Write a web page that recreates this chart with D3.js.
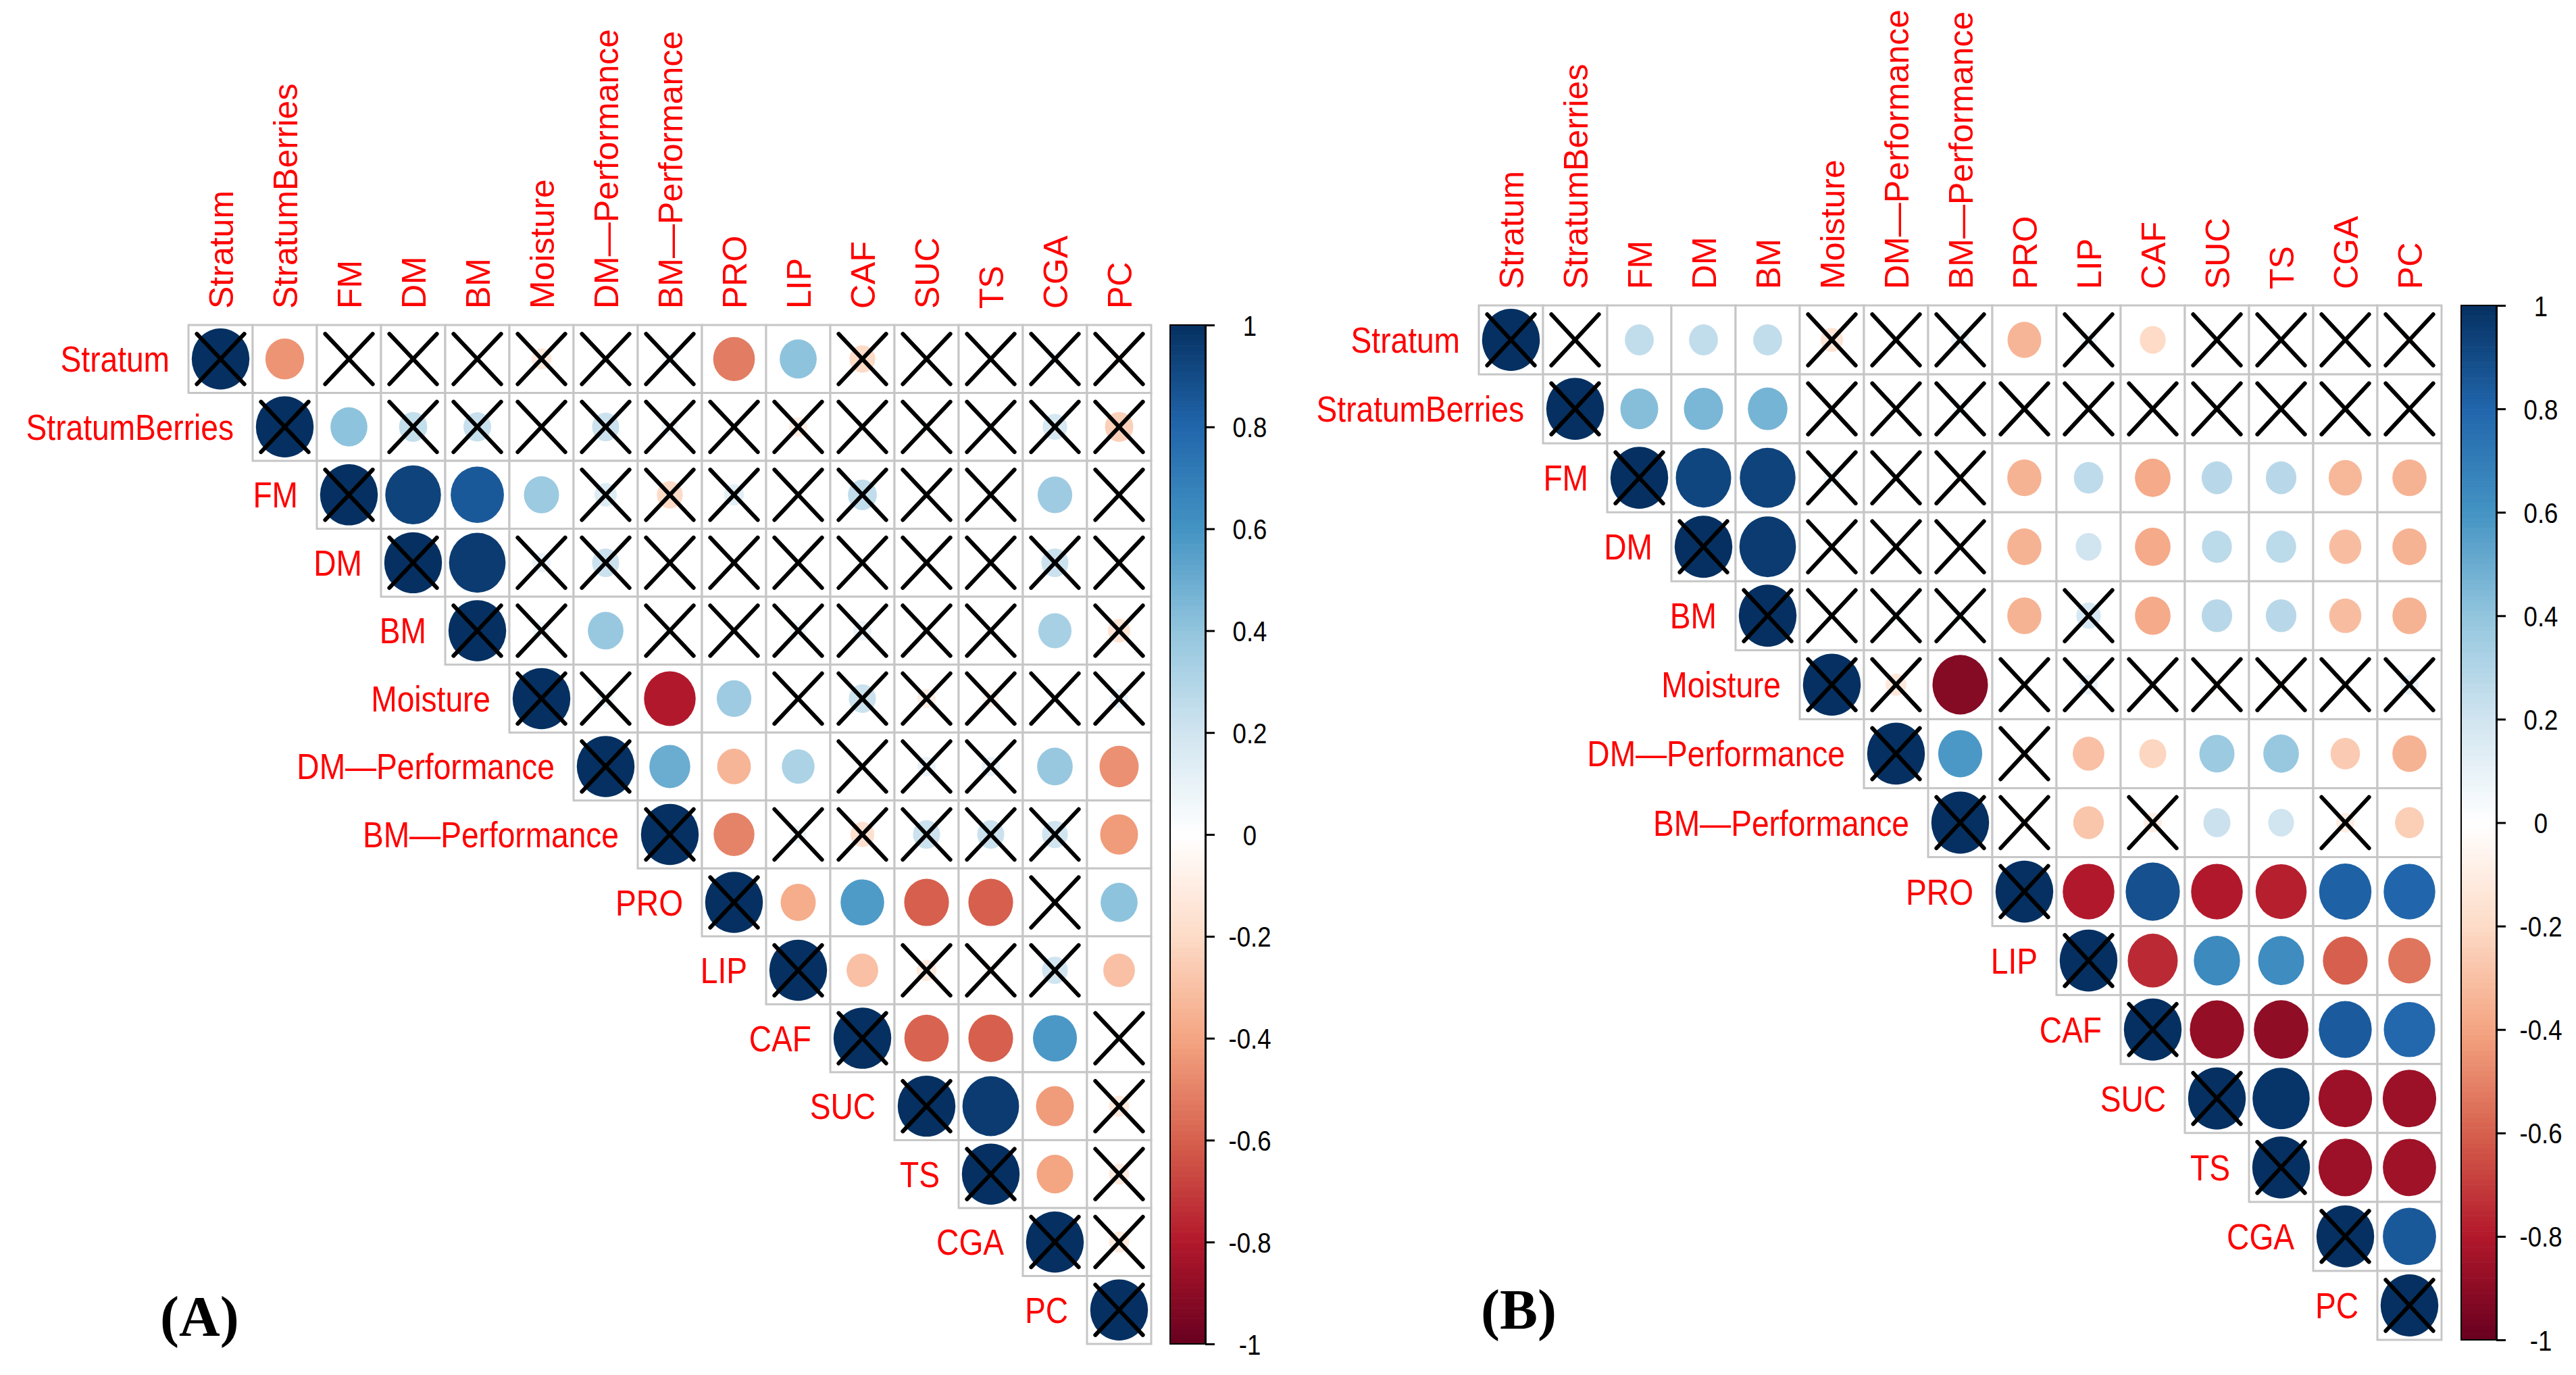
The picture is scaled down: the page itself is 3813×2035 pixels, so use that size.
<!DOCTYPE html>
<html>
<head>
<meta charset="utf-8">
<script src="https://cdn.jsdelivr.net/npm/d3@7"></script>
<style>
	body { margin: 0; background: #fff; }
	svg { display: block; }
	text { font-family: "Liberation Sans", Arial, sans-serif; }
	text.panel-name { font-family: "Liberation Serif", "Times New Roman", serif; font-weight: bold; }
</style>
</head>
<body>
<script>
// variables (same order for rows and columns)
const variables = [
	"Stratum", "StratumBerries", "FM", "DM", "BM", "Moisture",
	"DM—Performance", "BM—Performance", "PRO", "LIP", "CAF", "SUC", "TS", "CGA", "PC"
];

// upper triangle of each correlation matrix, every row starts at the diagonal
const corrA = [
	[1, -0.45, 0.02, 0.01, 0.02, -0.12, 0.02, 0.07, -0.52, 0.41, -0.2, 0.01, 0.02, 0.06, -0.05],
	[1, 0.41, 0.24, 0.23, 0.02, 0.22, 0.08, 0.02, -0.1, 0.02, 0.05, 0.05, 0.18, -0.24],
	[1, 0.93, 0.85, 0.37, 0.15, -0.2, 0.12, 0.03, 0.25, 0.03, 0.04, 0.36, 0.03],
	[1, 0.96, 0.1, 0.22, 0.03, 0.03, 0.03, 0.05, 0.02, 0.02, 0.22, -0.05],
	[1, 0.08, 0.38, 0.05, 0.03, 0.08, 0.1, 0.03, 0.03, 0.33, -0.15],
	[1, 0.08, -0.8, 0.36, 0.02, 0.22, -0.1, -0.08, 0.02, 0.1],
	[1, 0.5, -0.34, 0.32, 0.02, 0.1, 0.1, 0.38, -0.46],
	[1, -0.5, 0.08, -0.17, 0.22, 0.22, 0.2, -0.43],
	[1, -0.37, 0.57, -0.6, -0.6, 0.03, 0.41],
	[1, -0.3, -0.12, -0.05, 0.2, -0.3],
	[1, -0.59, -0.6, 0.58, 0.05],
	[1, 0.96, -0.43, -0.12],
	[1, -0.4, -0.12],
	[1, -0.12],
	[1]
];
// 1 = not significant (drawn with a cross)
const crossA = [
	[1, 0, 1, 1, 1, 1, 1, 1, 0, 0, 1, 1, 1, 1, 1],
	[1, 0, 1, 1, 1, 1, 1, 1, 1, 1, 1, 1, 1, 1],
	[1, 0, 0, 0, 1, 1, 1, 1, 1, 1, 1, 0, 1],
	[1, 0, 1, 1, 1, 1, 1, 1, 1, 1, 1, 1],
	[1, 1, 0, 1, 1, 1, 1, 1, 1, 0, 1],
	[1, 1, 0, 0, 1, 1, 1, 1, 1, 1],
	[1, 0, 0, 0, 1, 1, 1, 0, 0],
	[1, 0, 1, 1, 1, 1, 1, 0],
	[1, 0, 0, 0, 0, 1, 0],
	[1, 0, 1, 1, 1, 0],
	[1, 0, 0, 0, 1],
	[1, 0, 0, 1],
	[1, 0, 1],
	[1, 1],
	[1]
];

const corrB = [
	[1, 0.02, 0.25, 0.25, 0.25, -0.15, 0.02, 0.1, -0.34, 0.08, -0.2, 0.02, 0.02, -0.03, -0.05],
	[1, 0.43, 0.46, 0.47, -0.05, 0.02, 0.06, 0.02, 0.02, 0.02, 0.02, 0.02, 0.02, 0.02],
	[1, 0.92, 0.93, 0.08, 0.02, -0.05, -0.35, 0.26, -0.38, 0.28, 0.28, -0.33, -0.35],
	[1, 0.96, 0.03, 0.02, 0.02, -0.35, 0.2, -0.38, 0.27, 0.27, -0.31, -0.35],
	[1, 0.03, 0.05, 0.05, -0.35, 0.18, -0.38, 0.28, 0.28, -0.31, -0.35],
	[1, -0.13, -0.92, 0.02, 0.1, 0.02, -0.05, -0.05, 0.02, 0.1],
	[1, 0.58, -0.05, -0.3, -0.22, 0.37, 0.38, -0.26, -0.35],
	[1, -0.05, -0.28, -0.1, 0.22, 0.2, -0.1, -0.25],
	[1, -0.8, 0.88, -0.8, -0.78, 0.82, 0.8],
	[1, -0.75, 0.64, 0.63, -0.6, -0.54],
	[1, -0.88, -0.89, 0.84, 0.79],
	[1, 0.98, -0.86, -0.86],
	[1, -0.86, -0.85],
	[1, 0.85],
	[1]
];
const crossB = [
	[1, 1, 0, 0, 0, 1, 1, 1, 0, 1, 0, 1, 1, 1, 1],
	[1, 0, 0, 0, 1, 1, 1, 1, 1, 1, 1, 1, 1, 1],
	[1, 0, 0, 1, 1, 1, 0, 0, 0, 0, 0, 0, 0],
	[1, 0, 1, 1, 1, 0, 0, 0, 0, 0, 0, 0],
	[1, 1, 1, 1, 0, 1, 0, 0, 0, 0, 0],
	[1, 1, 0, 1, 1, 1, 1, 1, 1, 1],
	[1, 0, 1, 0, 0, 0, 0, 0, 0],
	[1, 1, 0, 1, 0, 0, 1, 0],
	[1, 0, 0, 0, 0, 0, 0],
	[1, 0, 0, 0, 0, 0],
	[1, 0, 0, 0, 0],
	[1, 0, 0, 0],
	[1, 0, 0],
	[1, 0],
	[1]
];

const legendTicks = [-1, -0.8, -0.6, -0.4, -0.2, 0, 0.2, 0.4, 0.6, 0.8, 1];
const paletteRdBu = [
	"#67001F", "#B2182B", "#D6604D", "#F4A582", "#FDDBC7", "#FFFFFF",
	"#D1E5F0", "#92C5DE", "#4393C3", "#2166AC", "#053061"
];
const panelNames = ["(A)", "(B)"];

const svgWidth = 3813;
const svgHeight = 2035;

const svg = d3
	.select("body")
	.append("svg")
	.attr("viewBox", `0 0 ${svgWidth} ${svgHeight}`)
	.attr("width", svgWidth)
	.attr("height", svgHeight);

svg.append("rect").attr("width", svgWidth).attr("height", svgHeight).attr("fill", "#fff");

// one colour stop for every legend tick
const colorScale = d3
	.scaleLinear()
	.domain(legendTicks)
	.range(paletteRdBu)
	.clamp(true);

const panels = [
	{ corr: corrA, cross: crossA, name: panelNames[0], left: 279, top: 481, bottom: 1989, cellW: 95, barX: 1732, nameX: 237, nameY: 1977 },
	{ corr: corrB, cross: crossB, name: panelNames[1], left: 2189, top: 452, bottom: 1983, cellW: 95, barX: 3643, nameX: 2192, nameY: 1967 }
];

const drawPanel = (p) => {
	const g = svg.append("g");

	const xScale = d3
		.scaleBand()
		.domain(variables)
		.range([p.left, p.left + p.cellW * variables.length]);

	const yScale = d3
		.scaleBand()
		.domain(variables)
		.range([p.top, p.bottom]);

	const bw = xScale.bandwidth();
	const bh = yScale.bandwidth();

	// flatten the upper triangle
	const cells = [];
	p.corr.forEach((row, i) => {
		row.forEach((r, k) => {
			cells.push({ i, j: i + k, r, ns: p.cross[i][k] === 1 });
		});
	});

	// grid
	g.append("g")
		.selectAll("rect")
		.data(cells)
		.join("rect")
		.attr("x", (d) => xScale(variables[d.j]))
		.attr("y", (d) => yScale(variables[d.i]))
		.attr("width", bw)
		.attr("height", bh)
		.attr("fill", "#fff")
		.attr("stroke", "#c6c6c6")
		.attr("stroke-width", 3);

	// circles, area proportional to |r|
	g.append("g")
		.selectAll("ellipse")
		.data(cells)
		.join("ellipse")
		.attr("cx", (d) => xScale(variables[d.j]) + bw / 2)
		.attr("cy", (d) => yScale(variables[d.i]) + bh / 2)
		.attr("rx", (d) => 0.45 * bw * Math.sqrt(Math.abs(d.r)))
		.attr("ry", (d) => 0.45 * bh * Math.sqrt(Math.abs(d.r)))
		.attr("fill", (d) => colorScale(d.r));

	// crosses for insignificant cells
	const crosses = g
		.append("g")
		.attr("stroke", "#000")
		.attr("stroke-width", 6)
		.attr("stroke-linecap", "round")
		.selectAll("g")
		.data(cells.filter((d) => d.ns))
		.join("g")
		.attr("transform", (d) => `translate(${xScale(variables[d.j]) + bw / 2} ${yScale(variables[d.i]) + bh / 2})`);

	crosses
		.append("line")
		.attr("x1", -0.37 * bw)
		.attr("y1", -0.37 * bh)
		.attr("x2", 0.37 * bw)
		.attr("y2", 0.37 * bh);
	crosses
		.append("line")
		.attr("x1", -0.37 * bw)
		.attr("y1", 0.37 * bh)
		.attr("x2", 0.37 * bw)
		.attr("y2", -0.37 * bh);

	// row labels, left of the diagonal cell
	g.append("g")
		.selectAll("text")
		.data(variables)
		.join("text")
		.attr("transform", (d) => `translate(${xScale(d) - 28} ${yScale(d) + bh / 2 + 19}) scale(0.87 1)`)
		.attr("text-anchor", "end")
		.attr("font-size", 53)
		.attr("fill", "#ff0000")
		.text((d) => d);

	// column labels, rotated
	g.append("g")
		.selectAll("text")
		.data(variables)
		.join("text")
		.attr("transform", (d) => `translate(${xScale(d) + bw / 2 + 18} ${p.top - 24}) rotate(-90)`)
		.attr("text-anchor", "start")
		.attr("font-size", 50)
		.attr("fill", "#ff0000")
		.text((d) => d);

	// colour legend
	const barWidth = 52;
	const barScale = d3.scaleLinear().domain([-1, 1]).range([p.bottom, p.top]);
	const steps = d3.range(200).map((k) => -1 + k * 0.01);

	g.append("g")
		.selectAll("rect")
		.data(steps)
		.join("rect")
		.attr("x", p.barX)
		.attr("y", (d) => barScale(d + 0.01))
		.attr("width", barWidth)
		.attr("height", (d) => barScale(d) - barScale(d + 0.01) + 0.6)
		.attr("fill", (d) => colorScale(d + 0.005));

	g.append("rect")
		.attr("x", p.barX)
		.attr("y", p.top)
		.attr("width", barWidth)
		.attr("height", p.bottom - p.top)
		.attr("fill", "none")
		.attr("stroke", "#000")
		.attr("stroke-width", 2);

	const axis = g
		.append("g")
		.attr("transform", `translate(${p.barX + barWidth} 0)`)
		.call(
			d3
				.axisRight(barScale)
				.tickValues(legendTicks)
				.tickSize(14)
				.tickSizeOuter(0)
				.tickFormat((d) => String(Math.round(d * 10) / 10))
		);

	axis.select(".domain").attr("stroke-width", 3);
	axis.selectAll(".tick line").attr("stroke-width", 3);
	axis
		.selectAll(".tick text")
		.attr("x", null)
		.attr("dy", null)
		.attr("transform", "translate(66 15) scale(0.87 1)")
		.attr("text-anchor", "middle")
		.attr("font-size", 42)
		.attr("fill", "#000");

	// panel tag
	svg.append("text")
		.attr("class", "panel-name")
		.attr("x", p.nameX)
		.attr("y", p.nameY)
		.attr("font-size", 84)
		.attr("fill", "#000")
		.text(p.name);
};

panels.forEach(drawPanel);
</script>
</body>
</html>
